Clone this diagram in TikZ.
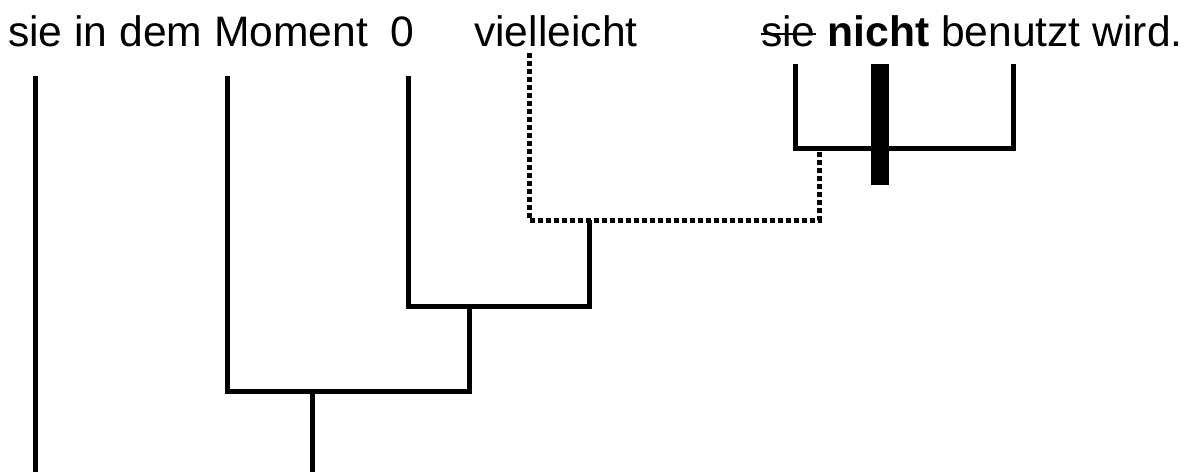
\documentclass[tikz,border=0pt]{standalone}
\usepackage{fontspec}
\setmainfont{Liberation Sans}
\newcommand\durch[1]{\setbox0=\hbox{#1}\rlap{\rule[0.26em]{\wd0}{0.05em}}#1}
\tikzset{
	wort/.style={inner sep=0pt, anchor=base west, font=\fontsize{42.6}{50}\selectfont},
	ast/.style={line width=5pt, line join=miter},
	punktiert/.style={line width=5pt, line join=miter, dash pattern=on 5pt off 3pt},
}
\begin{document}
\begin{tikzpicture}[x=1pt, y=-1pt]
	\useasboundingbox (0,0) rectangle (1189,472);
	
	%Woerter
	\node[wort] (sie) at (8,46) {sie in dem Moment};
	\node[wort] (null) at (390,46) {0};
	\node[wort] (viel) at (474,46) {vielleicht};
	\node[wort] (nicht) at (761,46) {\durch{sie} \textbf{nicht} benutzt wird.};
	
	\coordinate (w1) at (35, 76);
	\coordinate (w2) at (227, 76);
	\coordinate (w3) at (408, 76);
	\coordinate (w4) at (529, 53);
	\coordinate (r1) at (795, 64);
	\coordinate (r2) at (1013, 64);
	\coordinate (n) at (880, 64);
	
	%Knoten
	\coordinate (k1) at (819, 148);
	\coordinate (k2) at (589, 220);
	\coordinate (k3) at (469, 306);
	\coordinate (k4) at (312, 391);
	\coordinate (u1) at (35, 472);
	\coordinate (u4) at (312, 472);
	\coordinate (nu) at (880, 185);
	
	\draw[punktiert] (w4) |- (k2) -| (k1);%vielleicht
	\draw[ast] (r1) |- (k1) -| (r2);%sie ... wird
	\draw[line width=18pt] (n) -- (nu);%nicht
	
	\draw[ast] (w3) |- (k3) -| (k2);
	\draw[ast] (w2) |- (k4) -| (k3);
	\draw[ast] (k4) -- (u4);
	\draw[ast] (w1) -- (u1);
\end{tikzpicture}
\end{document}
